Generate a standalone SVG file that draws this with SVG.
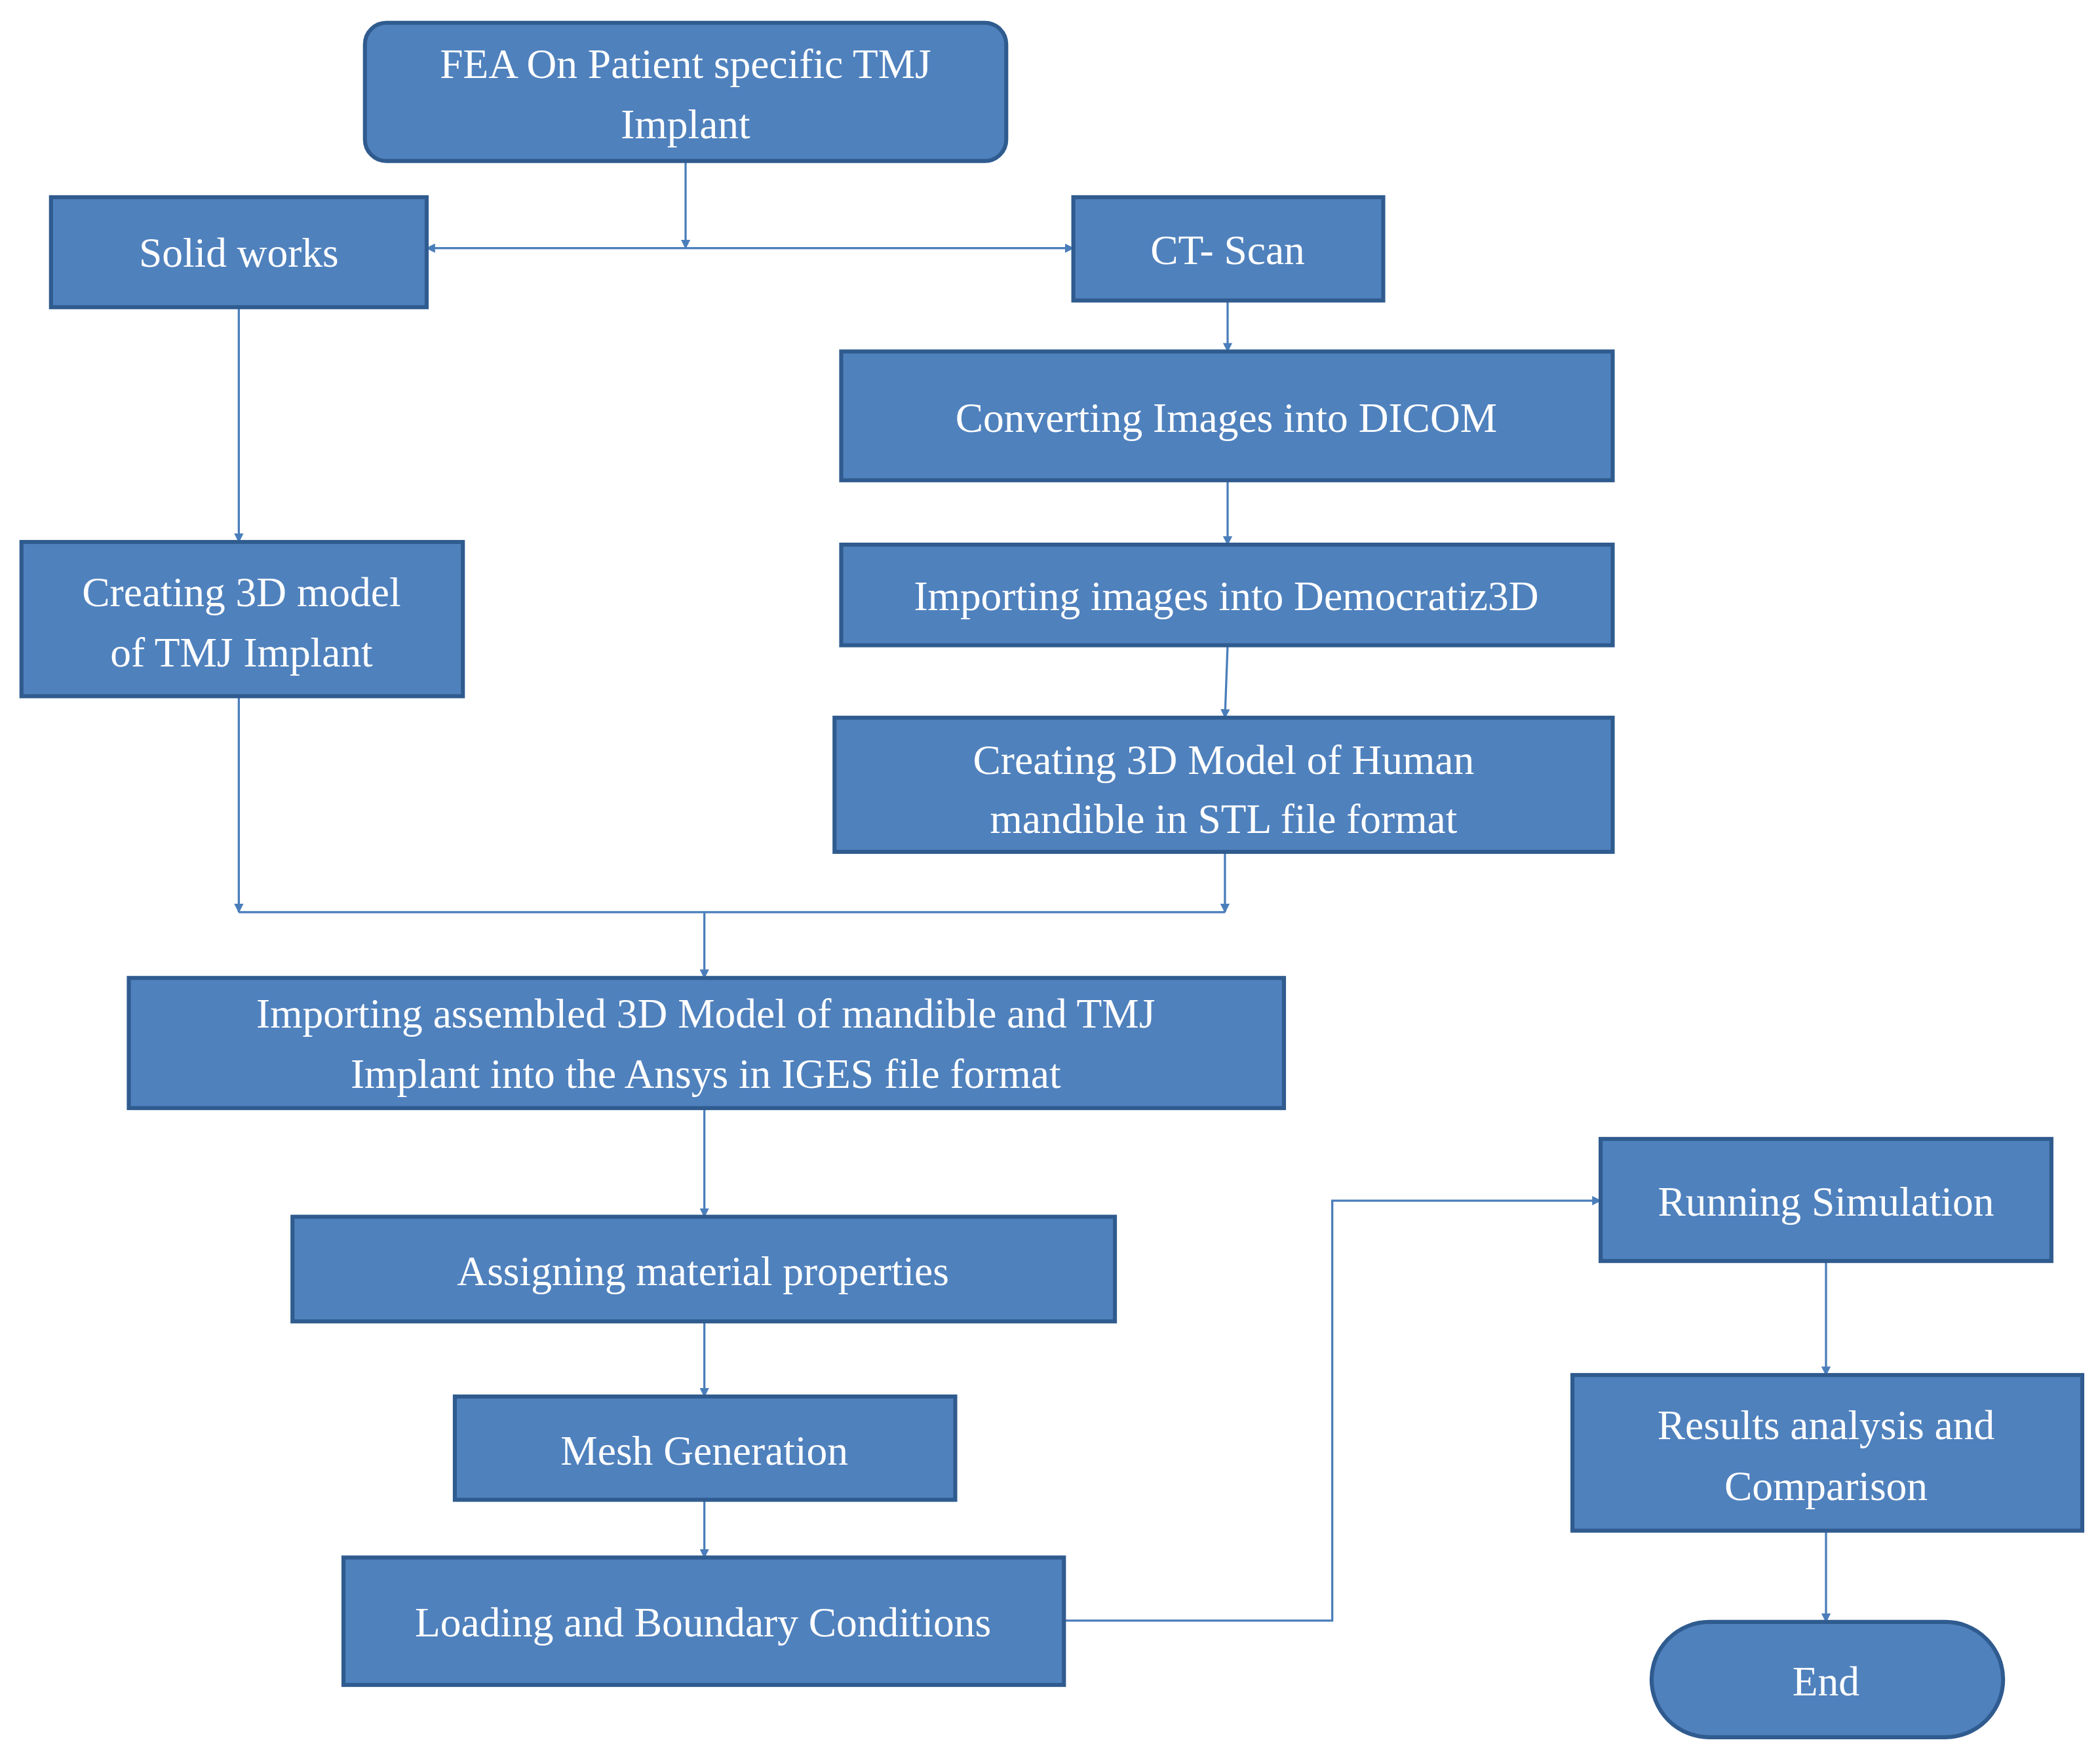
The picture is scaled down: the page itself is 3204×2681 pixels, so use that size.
<svg xmlns="http://www.w3.org/2000/svg" width="3204" height="2681" viewBox="0 0 3204 2681">
<style>
.b{fill:#4F81BD;stroke:#2F5B8F;stroke-width:3}
.t{fill:#fff;font-family:"Liberation Serif",serif;font-size:31px;text-anchor:middle}
.c{fill:none;stroke:#4A7EBB;stroke-width:1.6}
</style>
<defs><marker id="a" viewBox="0 0 10 10" refX="9" refY="5" markerWidth="7" markerHeight="7" orient="auto-start-reverse" markerUnits="userSpaceOnUse"><path d="M0,0L10,5L0,10z" fill="#4A7EBB"/></marker></defs>
<rect width="3204" height="2681" fill="#fff"/>
<g transform="scale(2.047)">
<g id="connectors">
<path class="c" d="M511,120V185" marker-end="url(#a)"/>
<path class="c" d="M318,185H800" marker-start="url(#a)" marker-end="url(#a)"/>
<path class="c" d="M915,224V262" marker-end="url(#a)"/>
<path class="c" d="M915,358V406" marker-end="url(#a)"/>
<path class="c" d="M915,481L913,535" marker-end="url(#a)"/>
<path class="c" d="M178,229V404" marker-end="url(#a)"/>
<path class="c" d="M178,519V680" marker-end="url(#a)"/>
<path class="c" d="M913,635V680" marker-end="url(#a)"/>
<path class="c" d="M178,680H913"/>
<path class="c" d="M525,680V729" marker-end="url(#a)"/>
<path class="c" d="M525,826V907" marker-end="url(#a)"/>
<path class="c" d="M525,985V1041" marker-end="url(#a)"/>
<path class="c" d="M525,1118V1161" marker-end="url(#a)"/>
<path class="c" d="M793,1208H993V895H1193" marker-end="url(#a)"/>
<path class="c" d="M1361,940V1025" marker-end="url(#a)"/>
<path class="c" d="M1361,1141V1209" marker-end="url(#a)"/>
</g>
<g id="n1"><rect class="b" x="272" y="17" width="478" height="103" rx="16"/><text class="t" x="511" y="58">FEA On  Patient specific TMJ</text><text class="t" x="511" y="103">Implant</text></g>
<g id="n2"><rect class="b" x="38" y="147" width="280" height="82"/><text class="t" x="178" y="199">Solid works</text></g>
<g id="n3"><rect class="b" x="800" y="147" width="231" height="77"/><text class="t" x="915" y="197">CT- Scan</text></g>
<g id="n4"><rect class="b" x="627" y="262" width="575" height="96"/><text class="t" x="914" y="322">Converting Images into DICOM</text></g>
<g id="n5"><rect class="b" x="627" y="406" width="575" height="75"/><text class="t" x="914" y="455">Importing images into Democratiz3D</text></g>
<g id="n6"><rect class="b" x="622" y="535" width="580" height="100"/><text class="t" x="912" y="577">Creating 3D Model of Human</text><text class="t" x="912" y="621">mandible in STL file format</text></g>
<g id="n7"><rect class="b" x="16" y="404" width="329" height="115"/><text class="t" x="180" y="452">Creating 3D model</text><text class="t" x="180" y="497">of TMJ Implant</text></g>
<g id="n8"><rect class="b" x="96" y="729" width="861" height="97"/><text class="t" x="526" y="766">Importing assembled 3D Model of  mandible and TMJ</text><text class="t" x="526" y="811">Implant into the Ansys in IGES file format</text></g>
<g id="n9"><rect class="b" x="218" y="907" width="613" height="78"/><text class="t" x="524" y="958">Assigning material properties</text></g>
<g id="n10"><rect class="b" x="339" y="1041" width="373" height="77"/><text class="t" x="525" y="1092">Mesh Generation</text></g>
<g id="n11"><rect class="b" x="256" y="1161" width="537" height="95"/><text class="t" x="524" y="1220">Loading and Boundary Conditions</text></g>
<g id="n12"><rect class="b" x="1193" y="849" width="336" height="91"/><text class="t" x="1361" y="906">Running Simulation</text></g>
<g id="n13"><rect class="b" x="1172" y="1025" width="380" height="116"/><text class="t" x="1361" y="1073">Results analysis and</text><text class="t" x="1361" y="1118">Comparison</text></g>
<g id="n14"><rect class="b" x="1231" y="1209" width="262" height="86" rx="43"/><text class="t" x="1361" y="1264">End</text></g>
</g>
</svg>
